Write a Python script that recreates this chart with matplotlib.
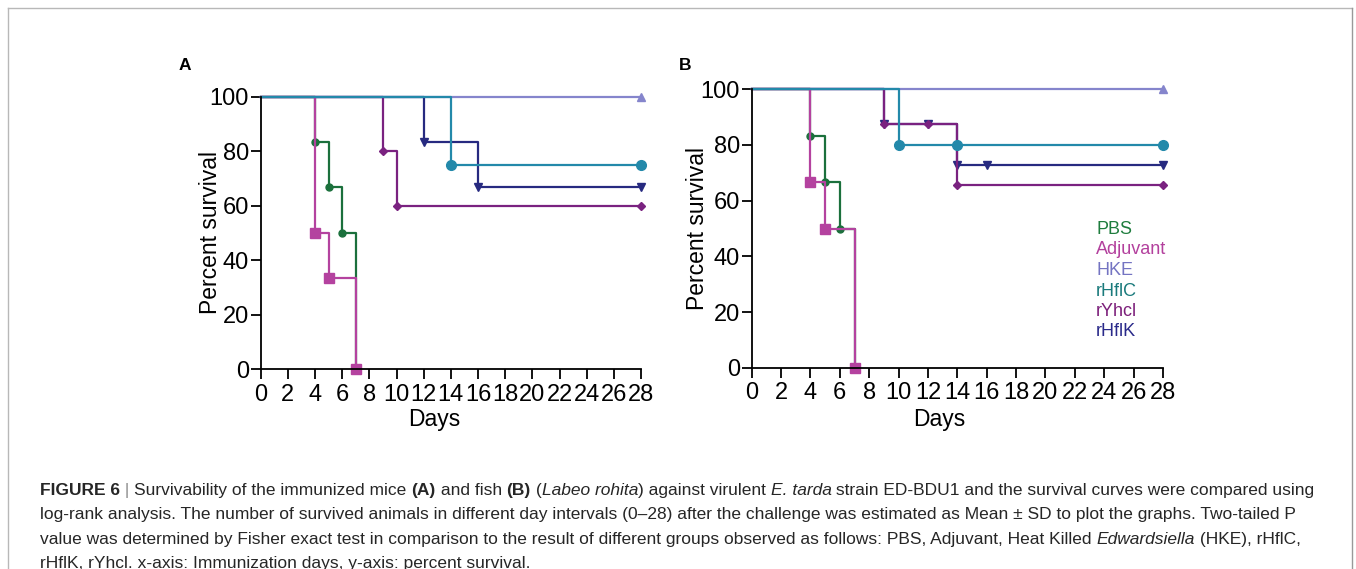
#!/bin/python3

# Survival curves of immunized mice (A) and fish (B), with the figure caption.
# Kaplan-Meier style step lines, one marker per event day.

import matplotlib
matplotlib.use('Agg')
import matplotlib.pyplot as plt
from matplotlib.lines import Line2D

plt.rcParams['font.family'] = ['Liberation Sans', 'DejaVu Sans']

W, H = 1356, 569

groups = ['PBS', 'Adjuvant', 'HKE', 'rHflC', 'rYhcl', 'rHflK']
day_ticks = list(range(0, 29, 2))
pct_ticks = [0, 20, 40, 60, 80, 100]

# panel A - mice
mice_pbs_days = [0, 4, 5, 6, 7]
mice_pbs_surv = [100, 83.3, 66.7, 50, 0]
mice_adj_days = [0, 4, 5, 7]
mice_adj_surv = [100, 50, 33.3, 0]
mice_hke_days = [0, 28]
mice_hke_surv = [100, 100]
mice_hflc_days = [0, 14, 28]
mice_hflc_surv = [100, 75, 75]
mice_yhcl_days = [0, 9, 10, 28]
mice_yhcl_surv = [100, 80, 60, 60]
mice_hflk_days = [0, 12, 16, 28]
mice_hflk_surv = [100, 83.3, 66.7, 66.7]

# panel B - fish
fish_pbs_days = [0, 4, 5, 6, 7]
fish_pbs_surv = [100, 83.3, 66.7, 50, 0]
fish_adj_days = [0, 4, 5, 7]
fish_adj_surv = [100, 66.7, 50, 0]
fish_hke_days = [0, 28]
fish_hke_surv = [100, 100]
fish_hflc_days = [0, 10, 14, 28]
fish_hflc_surv = [100, 80, 80, 80]
fish_yhcl_days = [0, 9, 12, 14, 28]
fish_yhcl_surv = [100, 87.5, 87.5, 65.6, 65.6]
fish_hflk_days = [0, 9, 12, 14, 16, 28]
fish_hflk_surv = [100, 87.5, 87.5, 72.9, 72.9, 72.9]

line_colors = {'PBS': '#1b703c', 'Adjuvant': '#b4429f', 'HKE': '#8585cc',
	'rHflC': '#2389aa', 'rYhcl': '#7a2280', 'rHflK': '#272a80'}
text_colors = {'PBS': '#1f7d3e', 'Adjuvant': '#b3409d', 'HKE': '#7474c2',
	'rHflC': '#1a7a7c', 'rYhcl': '#7c1f7a', 'rHflK': '#2a2a8a'}
markers = {'PBS': ('o', 5), 'Adjuvant': ('s', 6.5), 'HKE': ('^', 6),
	'rHflC': ('o', 7), 'rYhcl': ('D', 3.8), 'rHflK': ('v', 6)}
# drawing order, last one on top
draw_order = ['HKE', 'rHflK', 'rYhcl', 'PBS', 'Adjuvant', 'rHflC']


def fx(x):
	return x / W

def fy(y):
	return 1 - y / H

def axes_px(left, top, right, bottom):
	return [fx(left), fy(bottom), (right - left) / W, (bottom - top) / H]

def draw_panel(ax, series, xlab_x, ylab_x, xlab_y):
	for g in draw_order:
		days, surv = series[g]
		c = line_colors[g]
		m, ms = markers[g]
		ax.step(days, surv, where='post', color=c, lw=1.6, clip_on=False)
		ax.plot(days[1:], surv[1:], ls='none', marker=m, ms=ms, color=c,
			mec=c, clip_on=False)
	ax.set_xlim(0, 28)
	ax.set_ylim(0, 100)
	ax.set_xticks(day_ticks)
	ax.set_yticks(pct_ticks)
	for s in ['top', 'right']:
		ax.spines[s].set_visible(False)
	for s in ['left', 'bottom']:
		ax.spines[s].set_linewidth(1.3)
	ax.tick_params(direction='out', length=7, width=1.3, labelsize=17)
	ax.tick_params(axis='x', pad=3.5)
	ax.tick_params(axis='y', pad=1.5)
	ax.set_xlabel('Days', fontsize=16.5)
	ax.set_ylabel('Percent survival', fontsize=16.5)
	ax.xaxis.set_label_coords(xlab_x, xlab_y)
	ax.yaxis.set_label_coords(ylab_x, 0.5)

def rich_line(fig, x, y, parts, size, color):
	r = fig.canvas.get_renderer()
	for s, weight, style, c in parts:
		kw = dict(fontsize=size, weight=weight, style=style)
		fig.text(fx(x), fy(y), s, color=c or color, va='baseline', **kw)
		# measure with a trailing bar so trailing spaces count
		p1 = fig.text(0, 0, s + '|', **kw)
		p2 = fig.text(0, 0, '|', **kw)
		x += p1.get_window_extent(r).width - p2.get_window_extent(r).width
		p1.remove()
		p2.remove()


fig = plt.figure(figsize=(W / 100, H / 100), dpi=100)

# frame around the figure block
frame = '#b8b8b8'
fig.add_artist(Line2D([fx(8), fx(1352)], [fy(8), fy(8)], color=frame, lw=1))
fig.add_artist(Line2D([fx(8), fx(8)], [fy(8), 0], color=frame, lw=1))
fig.add_artist(Line2D([fx(1352), fx(1352)], [fy(8), 0], color='#999999', lw=1))

mice = {'PBS': (mice_pbs_days, mice_pbs_surv), 'Adjuvant': (mice_adj_days, mice_adj_surv),
	'HKE': (mice_hke_days, mice_hke_surv), 'rHflC': (mice_hflc_days, mice_hflc_surv),
	'rYhcl': (mice_yhcl_days, mice_yhcl_surv), 'rHflK': (mice_hflk_days, mice_hflk_surv)}
fish = {'PBS': (fish_pbs_days, fish_pbs_surv), 'Adjuvant': (fish_adj_days, fish_adj_surv),
	'HKE': (fish_hke_days, fish_hke_surv), 'rHflC': (fish_hflc_days, fish_hflc_surv),
	'rYhcl': (fish_yhcl_days, fish_yhcl_surv), 'rHflK': (fish_hflk_days, fish_hflk_surv)}

ax_a = fig.add_axes(axes_px(260.7, 96.7, 641, 369))
draw_panel(ax_a, mice, 0.456, -0.103, -0.142)
ax_b = fig.add_axes(axes_px(751.7, 89.3, 1163, 367.7))
draw_panel(ax_b, fish, 0.455, -0.105, -0.144)

fig.text(fx(185), fy(65), 'A', weight='bold', fontsize=12.5, ha='center', va='center')
fig.text(fx(685), fy(65), 'B', weight='bold', fontsize=12.5, ha='center', va='center')

# legend as coloured text in panel B
for i, g in enumerate(groups):
	fig.text(fx(1096), fy(234 + i * 20.5), g, color=text_colors[g], fontsize=13,
		va='baseline')

# caption
cap = '#262626'
N, B, I = ('normal', 'normal'), ('bold', 'normal'), ('normal', 'italic')
lines = [
	[('FIGURE 6', *B, None), (' | ', *N, '#8a8a8a'),
	 ('Survivability of the immunized mice ', *N, None), ('(A)', *B, None),
	 (' and fish ', *N, None), ('(B)', *B, None), (' (', *N, None),
	 ('Labeo rohita', *I, None), (') against virulent ', *N, None),
	 ('E. tarda', *I, None),
	 (' strain ED-BDU1 and the survival curves were compared using', *N, None)],
	[('log-rank analysis. The number of survived animals in different day intervals '
	  '(0\u201328) after the challenge was estimated as Mean \u00b1 SD to plot the graphs. '
	  'Two-tailed P', *N, None)],
	[('value was determined by Fisher exact test in comparison to the result of different '
	  'groups observed as follows: PBS, Adjuvant, Heat Killed ', *N, None),
	 ('Edwardsiella', *I, None), (' (HKE), rHflC,', *N, None)],
	[('rHflK, rYhcl. x-axis: Immunization days, y-axis: percent survival.', *N, None)],
]
for k, parts in enumerate(lines):
	rich_line(fig, 40, 495 + k * 24.3, parts, 12.5, cap)

fig.savefig('out.png', dpi=100)
plt.close()
